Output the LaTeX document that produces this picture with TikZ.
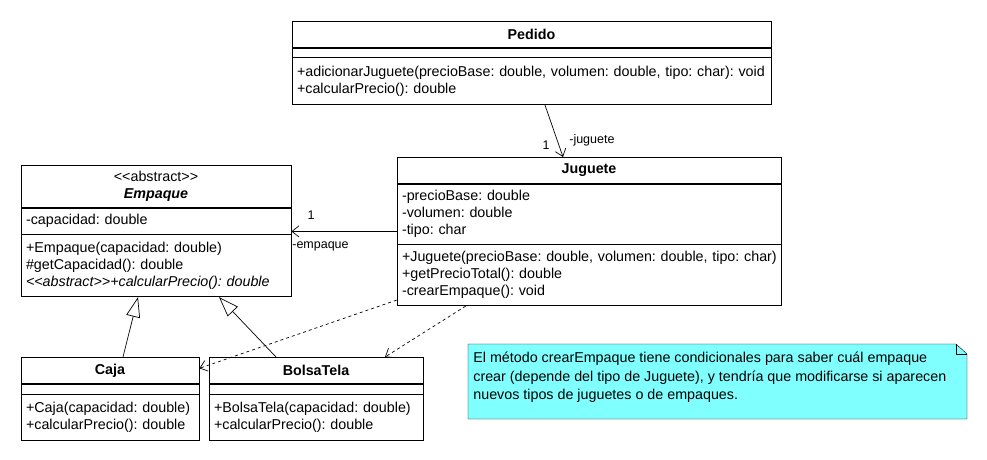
\documentclass[tikz,border=0pt]{standalone}
\usepackage{fontspec}
\setmainfont{Liberation Sans}
\usepackage{tikz}
\usetikzlibrary{positioning, arrows.meta, backgrounds}
\definecolor{notafondo}{RGB}{128,255,255}
\newcommand{\clsfont}{\fontsize{14.3}{17}\selectfont\frenchspacing}
\newcommand{\lblfont}{\fontsize{12.5}{15}\selectfont\frenchspacing}
\tikzset{
  titulo/.style={draw, text width=#1, align=center, inner xsep=5pt, inner ysep=0pt, font=\clsfont\bfseries},
  seccion/.style={draw, text width=#1, align=left, inner xsep=5pt, inner ysep=0pt, font=\clsfont},
  etiqueta/.style={inner sep=0pt, font=\lblfont},
  asoc/.style={-{Straight Barb[length=7pt,width=11pt]}},
  hereda/.style={-{Triangle[open,length=20pt,width=14pt]}},
  depende/.style={dashed, -{Straight Barb[length=7pt,width=11pt]}},
}

\begin{document}
\begin{tikzpicture}[x=1pt, y=-1pt, line width=0.7pt]
            \useasboundingbox (0,0) rectangle (987,460);
            \node[titulo=469, minimum height=26pt, anchor=north] (pedido) at (531.5,21) {Pedido};
            \node[seccion=469, minimum height=9pt, below=0pt of pedido] (pedidoAtr) {};
            \node[seccion=469, minimum height=47pt, below=0pt of pedidoAtr] (pedidoMet) {
              \mbox{+adicionarJuguete(precioBase: double, volumen: double, tipo: char): void}\\
              +calcularPrecio(): double
            };
            \node[titulo=374, minimum height=26pt, anchor=north] (juguete) at (589,157) {Juguete};
            \node[seccion=374, minimum height=60pt, below=0pt of juguete] (jugueteAtr) {
              -precioBase: double\\
              -volumen: double\\
              -tipo: char
            };
            \node[seccion=374, minimum height=61pt, below=0pt of jugueteAtr] (jugueteMet) {
              \mbox{+Juguete(precioBase: double, volumen: double, tipo: char)}\\
              +getPrecioTotal(): double\\
              -crearEmpaque(): void
            };
            \node[titulo=260, minimum height=42pt, anchor=north, font=\clsfont] (empaque) at (156,165) {
              <{}<abstract>{}>\\
              \textbf{\textit{Empaque}}
            };
            \node[seccion=260, minimum height=26pt, below=0pt of empaque] (empaqueAtr) {-capacidad: double};
            \node[seccion=260, minimum height=62pt, below=0pt of empaqueAtr] (empaqueMet) {
              +Empaque(capacidad: double)\\
              \#getCapacidad(): double\\
              \textit{<{}<abstract>{}>+calcularPrecio(): double}
            };
            \node[titulo=168, minimum height=26pt, anchor=north] (caja) at (110,357) {Caja};
            \node[seccion=168, minimum height=10pt, below=0pt of caja] (cajaAtr) {};
            \node[seccion=168, minimum height=46pt, below=0pt of cajaAtr] (cajaMet) {
              \mbox{+Caja(capacidad: double)}\\
              +calcularPrecio(): double
            };
            \node[titulo=204, minimum height=26pt, anchor=north] (bolsa) at (316,357) {BolsaTela};
            \node[seccion=204, minimum height=10pt, below=0pt of bolsa] (bolsaAtr) {};
            \node[seccion=204, minimum height=46pt, below=0pt of bolsaAtr] (bolsaMet) {
              \mbox{+BolsaTela(capacidad: double)}\\
              +calcularPrecio(): double
            };
            \coordinate (notaNO) at (468,344);
            \coordinate (notaSE) at (967,419);
            \node[anchor=north west, align=left, inner xsep=5pt, inner ysep=8pt, font=\fontsize{14.3}{18.5}\selectfont\frenchspacing] (nota) at (notaNO) {
              El método crearEmpaque tiene condicionales para saber cuál empaque\\
              crear (depende del tipo de Juguete), y tendría que modificarse si aparecen\\
              nuevos tipos de juguetes o de empaques.
            };
            \begin{scope}[on background layer]
              \draw[fill=notafondo] (notaNO) -- ([xshift=-11]notaNO -| notaSE) -- ([yshift=-10]notaNO -| notaSE) -- (notaSE) -- (notaNO |- notaSE) -- cycle;
            \end{scope}
            \draw ([xshift=-11]notaNO -| notaSE) -- ++(0,10) -- ++(11,0);
            \draw[asoc] ([xshift=13.5]pedidoMet.south) -- ([xshift=-26]juguete.north);
            \node[etiqueta] (multJug) at (546,145) {1};
            \node[etiqueta, anchor=west] (rolJug) at (569,140) {-juguete};
            \coordinate (asocEmp) at ([yshift=13]jugueteAtr.south west);
            \draw[asoc] (asocEmp) -- (asocEmp -| empaqueAtr.east);
            \node[etiqueta] (multEmp) at (311,215) {1};
            \node[etiqueta, anchor=west] (rolEmp) at (292,246) {-empaque};
            \draw[hereda] ([xshift=13]caja.north) -- ([xshift=-18]empaqueMet.south);
            \draw[hereda] ([xshift=-40]bolsa.north) -- ([xshift=63]empaqueMet.south);
            \draw[depende] ([yshift=6]jugueteMet.south west) -- ([yshift=2]caja.east);
            \draw[depende] ([xshift=69]jugueteMet.south west) -- ([xshift=69]bolsa.north);
          \end{tikzpicture}
\end{document}
